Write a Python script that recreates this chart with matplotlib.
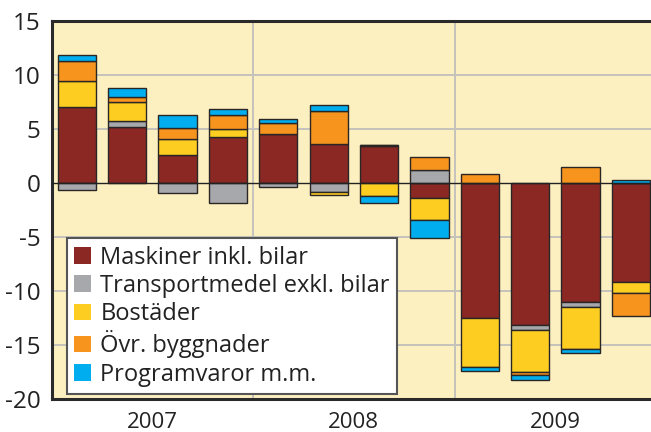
import matplotlib.pyplot as plt
import numpy as np

plt.rcParams['font.family'] = ['Open Sans', 'DejaVu Sans']
plt.rcParams['axes.unicode_minus'] = False

# quarterly contributions, 2007 Q1 - 2009 Q4
years = ['2007', '2008', '2009']
maskiner = [7.1, 5.2, 2.6, 4.3, 4.6, 3.6, 3.45, -1.33, -12.5, -13.15, -11.0, -9.17]
transport = [-0.62, 0.6, -0.93, -1.82, -0.31, -0.83, 0.08, 1.2, 0.0, -0.46, -0.43, 0.0]
bostader = [2.4, 1.7, 1.48, 0.71, 0.0, -0.28, -1.15, -2.07, -4.5, -3.9, -3.98, -1.05]
ovr_bygg = [1.8, 0.46, 1.05, 1.3, 0.93, 3.06, 0.0, 1.21, 0.86, -0.3, 1.51, -2.07]
program = [0.6, 0.84, 1.17, 0.6, 0.46, 0.56, -0.67, -1.7, -0.37, -0.43, -0.31, 0.28]

series = [
    ('Maskiner inkl. bilar', maskiner, '#8b2824'),
    ('Transportmedel exkl. bilar', transport, '#a7a8ab'),
    ('Bostäder', bostader, '#fdcd22'),
    ('Övr. byggnader', ovr_bygg, '#f7941d'),
    ('Programvaror m.m.', program, '#00aeef'),
]

fig = plt.figure(figsize=(6.51, 4.32), dpi=100)
ax = fig.add_axes([51.7 / 651, 33 / 432, 604.3 / 651, 377.7 / 432])
ax.set_facecolor('#fdf0c0')

x = np.arange(12) + 0.5
pos_base = np.zeros(12)
neg_base = np.zeros(12)
for label, vals, color in series:
    v = np.array(vals)
    bottom = np.where(v >= 0, pos_base, neg_base)
    ax.bar(x, v, 0.76, bottom=bottom, color=color, edgecolor='#2a2626',
           linewidth=1.0, label=label, zorder=3)
    pos_base += np.where(v >= 0, v, 0)
    neg_base += np.where(v < 0, v, 0)

# grid
for yv in [-15, -10, -5, 5, 10]:
    ax.axhline(yv, color='#c4c2bc', lw=1.4, zorder=1)
for xv in [4, 8]:
    ax.axvline(xv, color='#c4c2bc', lw=1.4, zorder=1)
ax.axhline(0, color='#222222', lw=1.0, zorder=4)

ax.set_xlim(0, 12)
ax.set_ylim(-20, 15)
ax.set_yticks(range(-20, 16, 5))
ax.set_xticks([2, 6, 10])
ax.set_xticklabels(years)
ax.tick_params(axis='y', length=0, pad=8, labelsize=17.5, colors='#222222')
ax.tick_params(axis='x', length=0, pad=9, labelsize=16, colors='#222222')

for s in ['left', 'top', 'bottom']:
    ax.spines[s].set_linewidth(2.2)
    ax.spines[s].set_color('#2a2a2a')
ax.spines['right'].set_visible(False)

leg = ax.legend(loc='upper left', bbox_to_anchor=(0.026, 0.425), borderaxespad=0,
                fontsize=17, handlelength=0.7, handleheight=0.7, handletextpad=0.4,
                labelspacing=0.18, borderpad=0.3, fancybox=False, framealpha=1,
                edgecolor='#555555', labelcolor='#222222')
leg.get_frame().set_linewidth(1.5)
for h in leg.legend_handles:
    h.set_edgecolor('none')

fig.savefig('out.png', dpi=100)
